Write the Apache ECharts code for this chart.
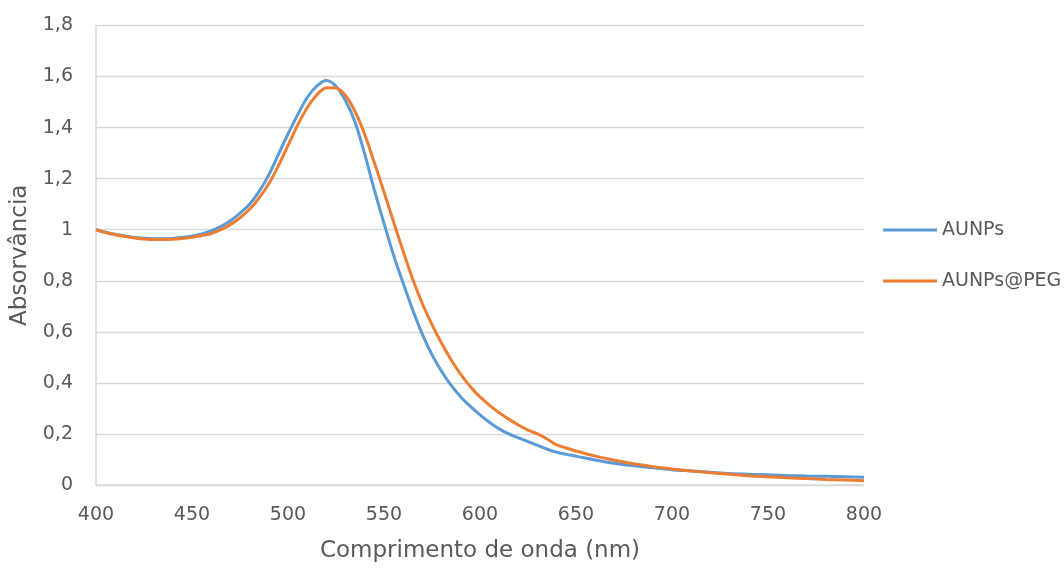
<!DOCTYPE html>
<html>
<head>
<meta charset="utf-8">
<script src="https://cdn.jsdelivr.net/npm/echarts@6/dist/echarts.min.js"></script>
<style>
  html, body { margin: 0; padding: 0; background: #ffffff; }
  #chart { width: 1064px; height: 568px; }
</style>
</head>
<body>
<div id="chart"></div>
<script>
const wavelengths = [400,405,410,415,420,425,430,435,440,445,450,455,460,465,470,475,480,485,490,495,500,505,510,515,520,525,530,535,540,545,550,555,560,565,570,575,580,585,590,595,600,605,610,615,620,625,630,635,640,645,650,660,670,680,690,700,710,720,730,740,750,760,770,780,790,800];
const aunps = [1.000,0.990,0.982,0.975,0.970,0.967,0.965,0.965,0.966,0.970,0.975,0.983,0.995,1.012,1.035,1.065,1.100,1.150,1.215,1.295,1.375,1.450,1.518,1.563,1.585,1.562,1.505,1.420,1.295,1.155,1.025,0.900,0.790,0.685,0.590,0.510,0.445,0.390,0.345,0.308,0.275,0.245,0.220,0.200,0.185,0.170,0.155,0.140,0.128,0.120,0.113,0.098,0.085,0.075,0.068,0.060,0.055,0.050,0.045,0.042,0.040,0.037,0.035,0.034,0.032,0.030];
const aunpsPeg = [1.000,0.989,0.980,0.973,0.968,0.964,0.962,0.962,0.963,0.966,0.970,0.977,0.985,1.000,1.020,1.047,1.080,1.125,1.180,1.250,1.330,1.410,1.478,1.528,1.556,1.555,1.525,1.462,1.372,1.262,1.148,1.030,0.915,0.805,0.710,0.628,0.555,0.490,0.433,0.385,0.345,0.312,0.283,0.258,0.235,0.215,0.200,0.180,0.157,0.145,0.133,0.113,0.097,0.083,0.072,0.063,0.055,0.048,0.042,0.036,0.032,0.028,0.025,0.022,0.020,0.017];
const seriesNames = ['AUNPs', 'AUNPs@PEG'];
const xTitle = 'Comprimento de onda (nm)';
const yTitle = 'Absorvância';

const FONT = 'DejaVu Sans';
const TXT = '#595959';

const chart = echarts.init(document.getElementById('chart'), null, { renderer: 'canvas' });
chart.setOption({
  animation: false,
  backgroundColor: '#ffffff',
  grid: { left: 96, right: 200, top: 25.5, bottom: 83, containLabel: false },
  legend: {
    orient: 'vertical',
    left: 878,
    top: 213,
    itemWidth: 54,
    itemHeight: 3,
    itemGap: 27,
    icon: 'rect',
    textStyle: { fontFamily: FONT, fontSize: 19, color: TXT, lineHeight: 24 },
    data: seriesNames
  },
  xAxis: {
    type: 'value',
    min: 400, max: 800, interval: 50,
    name: xTitle,
    nameLocation: 'middle',
    nameGap: 55,
    nameTextStyle: { fontFamily: FONT, fontSize: 23, color: TXT },
    axisLine: { show: true, lineStyle: { color: '#d9d9d9', width: 1.5 } },
    axisTick: { show: false },
    splitLine: { show: false },
    axisLabel: { fontFamily: FONT, fontSize: 19, color: TXT, margin: 21 }
  },
  yAxis: {
    type: 'value',
    min: 0, max: 1.8, interval: 0.2,
    name: yTitle,
    nameLocation: 'middle',
    nameGap: 62,
    nameTextStyle: { fontFamily: FONT, fontSize: 23, color: TXT },
    axisLine: { show: true, lineStyle: { color: '#d9d9d9', width: 1.5 } },
    axisTick: { show: false },
    splitLine: { show: true, lineStyle: { color: '#d9d9d9', width: 1.3 } },
    axisLabel: {
      fontFamily: FONT, fontSize: 19, color: TXT, margin: 23,
      formatter: v => (Math.round(v * 10) / 10).toString().replace('.', ',')
    }
  },
  series: [
    {
      name: seriesNames[0], type: 'line', showSymbol: false, symbol: 'none',
      smooth: 0.3,
      data: wavelengths.map((x, i) => [x, aunps[i]]),
      lineStyle: { color: '#5B9BD5', width: 3 },
      itemStyle: { color: '#5B9BD5' }
    },
    {
      name: seriesNames[1], type: 'line', showSymbol: false, symbol: 'none',
      smooth: 0.3,
      data: wavelengths.map((x, i) => [x, aunpsPeg[i]]),
      lineStyle: { color: '#ED7D31', width: 3 },
      itemStyle: { color: '#ED7D31' }
    }
  ]
});
</script>
</body>
</html>
